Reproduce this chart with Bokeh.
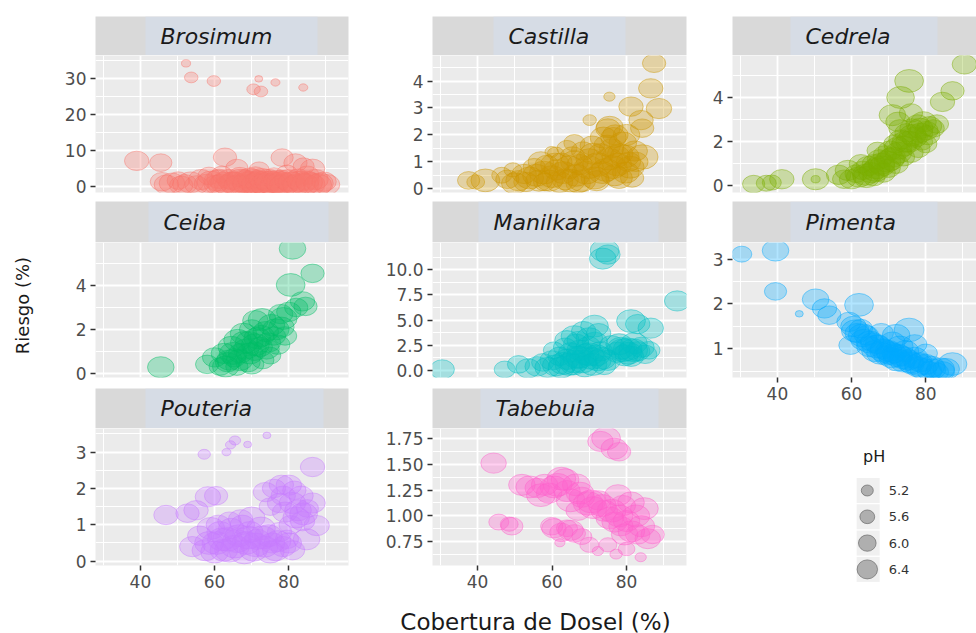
from math import pi

from bokeh.core.properties import value
from bokeh.embed import file_html
from bokeh.layouts import column, row
from bokeh.models import ColumnDataSource, FixedTicker, LinearInterpolator, Range1d
from bokeh.plotting import figure
from bokeh.resources import INLINE
from bokeh.transform import transform

# ---------------------------------------------------------------------------
# Data: (cobertura de dosel %, riesgo %, pH) for each genus
# ---------------------------------------------------------------------------
BROSIMUM = [
    (52.3, 34.1, 4.6), (53.7, 30.2, 5.0), (59.8, 29.2, 5.0), (71.9, 29.8, 4.5),
    (76.4, 28.8, 4.6), (70.5, 26.9, 5.0), (72.5, 26.3, 5.0), (83.9, 27.4, 4.6),
    (39.0, 7.0, 6.0), (45.5, 6.5, 5.8), (62.8, 8.0, 5.9), (78.2, 7.9, 5.8),
    (81.8, 6.4, 5.9), (86.4, 4.8, 6.0), (66.0, 5.0, 5.8), (72.0, 4.5, 5.6),
    (84.0, 5.5, 5.7), (45.8, 1.2, 5.9), (48.5, 0.8, 6.1), (50.2, 1.5, 5.8),
    (52.0, 0.5, 6.0), (53.5, 1.0, 6.2), (55.1, 0.3, 5.9), (56.4, 1.8, 6.1),
    (57.8, 0.6, 6.0), (59.0, 1.1, 6.3), (60.3, 0.4, 5.9), (61.2, 2.0, 6.0),
    (62.5, 0.9, 6.2), (63.4, 0.2, 6.1), (64.6, 1.4, 5.8), (65.5, 0.6, 6.4),
    (66.8, 2.5, 6.0), (67.5, 0.3, 6.2), (68.3, 1.2, 6.3), (69.2, 0.5, 6.1),
    (70.1, 0.9, 6.4), (70.8, 0.2, 6.2), (71.6, 1.6, 6.0), (72.4, 0.4, 6.3),
    (73.3, 0.8, 6.5), (74.0, 0.2, 6.2), (74.8, 1.3, 6.1), (75.6, 0.5, 6.4),
    (76.5, 0.9, 6.2), (77.3, 0.3, 6.0), (78.1, 1.8, 5.9), (79.0, 0.6, 6.3),
    (80.2, 1.1, 6.1), (81.3, 0.4, 6.0), (82.5, 2.2, 5.9), (83.6, 0.8, 6.2),
    (84.9, 1.5, 6.0), (86.0, 0.5, 6.3), (87.2, 1.8, 6.1), (88.4, 0.7, 6.2),
    (89.5, 1.2, 6.0), (90.3, 0.4, 6.1), (58.5, 2.8, 5.8), (62.0, 3.2, 5.7),
    (68.0, 2.0, 5.9), (76.0, 2.6, 5.8), (85.0, 3.0, 5.9), (79.5, 3.5, 5.7),
    (71.0, 2.9, 5.8), (60.8, 1.5, 6.2), (62.0, 0.3, 6.3), (63.8, 1.9, 6.0),
    (65.0, 0.9, 6.3), (66.2, 0.1, 6.2), (67.0, 1.5, 6.4), (68.8, 0.7, 6.4),
    (69.5, 2.2, 6.1), (70.5, 1.3, 6.5), (71.2, 0.6, 6.4), (72.0, 1.1, 6.3),
    (72.8, 2.0, 6.2), (73.6, 0.5, 6.4), (74.4, 1.6, 6.3), (75.2, 0.9, 6.5),
    (76.0, 0.2, 6.3), (76.9, 1.4, 6.2), (77.8, 0.8, 6.4), (78.6, 0.2, 6.3),
    (79.8, 1.6, 6.2), (80.8, 0.8, 6.3), (82.0, 0.3, 6.2), (83.0, 1.3, 6.1),
    (84.3, 0.4, 6.3), (85.5, 1.0, 6.2), (87.8, 0.3, 6.3), (51.0, 0.2, 5.9),
    (47.0, 0.4, 6.0),
]

CASTILLA = [
    (87.4, 4.66, 5.9), (86.5, 3.73, 6.0), (75.4, 3.42, 4.8), (81.2, 3.05, 6.0),
    (88.7, 2.98, 6.1), (83.9, 2.55, 6.0), (84.2, 2.25, 5.9), (70.1, 2.55, 5.0),
    (75.0, 2.24, 6.0), (76.5, 1.90, 6.1), (84.3, 1.18, 6.6), (59.9, 1.37, 5.0),
    (37.6, 0.31, 5.8), (42.1, 0.31, 6.4), (39.5, 0.25, 5.4), (46.5, 0.50, 5.6),
    (48.0, 0.35, 5.9), (49.5, 0.70, 5.4), (51.0, 0.30, 6.1), (52.5, 0.55, 6.0),
    (54.0, 0.40, 6.3), (55.2, 0.80, 5.8), (56.5, 0.30, 6.2), (57.8, 0.60, 6.4),
    (58.6, 0.90, 5.9), (60.0, 0.45, 6.3), (61.2, 0.70, 6.1), (62.4, 1.00, 5.8),
    (63.5, 0.35, 6.2), (64.6, 0.80, 6.4), (65.5, 1.20, 6.0), (66.5, 0.50, 6.3),
    (67.4, 0.90, 6.1), (68.3, 1.40, 5.9), (69.2, 0.60, 6.4), (70.0, 1.10, 6.2),
    (70.8, 1.60, 6.0), (71.5, 0.40, 6.3), (72.3, 0.90, 6.5), (73.1, 1.30, 6.1),
    (73.8, 1.90, 6.2), (74.5, 0.70, 6.4), (75.3, 1.10, 6.3), (76.0, 1.50, 6.0),
    (76.8, 0.50, 6.2), (77.5, 0.90, 6.4), (78.3, 1.30, 6.1), (79.0, 1.70, 6.3),
    (79.8, 0.60, 6.2), (80.5, 1.00, 6.0), (81.5, 0.40, 5.9), (82.2, 1.40, 6.1),
    (67.0, 0.20, 6.0), (58.0, 0.25, 5.8), (61.0, 1.30, 5.3), (64.0, 1.50, 5.6),
    (66.0, 1.70, 5.7), (50.0, 0.20, 6.2), (53.0, 0.25, 6.0), (55.8, 0.50, 6.3),
    (57.0, 1.00, 6.1), (59.3, 0.30, 6.2), (60.8, 0.90, 6.4), (62.0, 0.25, 6.2),
    (63.0, 0.60, 6.3), (65.0, 0.30, 6.4), (66.0, 1.00, 6.3), (68.0, 0.30, 6.3),
    (69.8, 0.80, 6.4), (71.0, 1.30, 6.2), (72.0, 0.30, 6.1), (73.5, 0.60, 6.3),
    (74.8, 1.60, 6.2), (76.3, 0.80, 6.4), (77.2, 1.20, 6.3), (78.0, 0.40, 6.2),
    (79.5, 1.20, 6.4), (80.0, 2.00, 6.2), (81.0, 0.80, 6.3), (82.5, 1.00, 6.0),
    (77.0, 2.00, 6.1), (75.5, 2.30, 6.2),
]

CEDRELA = [
    (90.4, 5.50, 6.0), (75.5, 4.75, 6.4), (87.2, 4.30, 5.9), (73.2, 4.00, 6.3),
    (84.5, 3.80, 6.0), (71.0, 3.20, 6.2), (72.5, 2.90, 6.0), (76.0, 3.30, 5.9),
    (60.0, 0.30, 6.0), (61.2, 0.55, 5.8), (62.0, 0.40, 6.1), (63.0, 0.70, 5.9),
    (63.8, 0.50, 6.2), (64.5, 0.90, 6.0), (65.3, 0.60, 6.1), (66.0, 1.00, 5.9),
    (66.8, 0.80, 6.2), (67.5, 1.20, 6.0), (68.2, 0.90, 6.1), (69.0, 1.40, 5.9),
    (69.7, 1.10, 6.2), (70.4, 1.60, 6.0), (71.1, 1.30, 6.1), (71.8, 1.90, 5.9),
    (72.6, 1.50, 6.2), (73.3, 2.10, 6.0), (74.0, 1.80, 6.1), (74.8, 2.40, 5.9),
    (75.5, 2.00, 6.2), (76.3, 2.60, 6.0), (77.0, 2.20, 6.1), (77.8, 2.80, 5.9),
    (78.6, 2.40, 6.0), (79.4, 2.90, 6.1), (80.2, 2.50, 5.9), (81.0, 2.70, 6.0),
    (82.0, 2.60, 5.8), (83.0, 2.80, 5.9), (66.0, 0.40, 5.8), (68.5, 0.60, 6.0),
    (70.0, 0.80, 5.9), (72.0, 1.00, 6.0), (74.0, 1.30, 5.8), (76.0, 1.50, 6.0),
    (78.0, 1.70, 5.9), (80.0, 1.90, 5.8), (62.5, 1.00, 5.9), (67.0, 1.60, 5.7),
    (73.0, 2.60, 5.8), (79.0, 2.00, 5.7), (33.6, 0.08, 5.8), (37.0, 0.12, 5.6),
    (38.5, 0.15, 5.5), (41.2, 0.30, 6.0), (50.3, 0.30, 6.2), (50.3, 0.30, 4.6),
    (56.5, 0.50, 6.0), (58.0, 0.30, 5.9), (59.0, 0.70, 6.1), (64.0, 0.40, 6.2),
    (66.5, 0.70, 6.3), (68.0, 1.00, 6.2), (70.5, 1.20, 6.3), (72.5, 1.70, 6.3),
    (74.5, 2.00, 6.2), (76.5, 2.30, 6.2), (78.5, 2.60, 6.1), (80.5, 2.30, 6.0),
]

CEIBA = [
    (81.0, 5.69, 6.2), (86.4, 4.56, 5.9), (80.5, 4.03, 6.4), (83.7, 3.28, 6.0),
    (84.5, 3.05, 5.9), (72.8, 2.45, 6.3), (77.8, 2.70, 6.0), (45.5, 0.27, 6.2),
    (58.0, 0.40, 5.9), (60.0, 0.72, 6.0), (61.5, 0.30, 5.8), (62.5, 0.90, 6.1),
    (63.5, 0.50, 6.0), (64.5, 1.20, 6.2), (65.3, 0.70, 5.9), (66.2, 1.50, 6.3),
    (67.0, 0.90, 6.0), (67.8, 1.80, 6.2), (68.5, 1.10, 6.1), (69.3, 1.40, 6.3),
    (70.0, 2.00, 6.0), (70.8, 1.00, 5.9), (71.5, 1.60, 6.2), (72.3, 1.20, 6.0),
    (73.0, 0.60, 5.8), (73.8, 1.90, 6.1), (74.5, 1.40, 6.0), (75.3, 2.20, 6.2),
    (76.0, 1.70, 5.9), (77.0, 1.30, 6.0), (78.0, 2.10, 6.1), (79.0, 1.70, 5.9),
    (80.0, 2.80, 6.0), (82.0, 3.00, 5.9), (75.0, 0.80, 5.7), (66.0, 0.30, 5.8),
    (69.0, 0.50, 6.0), (71.0, 2.40, 6.1), (63.0, 0.30, 6.2), (65.0, 0.90, 6.3),
    (66.8, 0.60, 6.2), (68.0, 1.40, 6.3), (69.5, 0.90, 6.2), (71.0, 1.30, 6.3),
    (72.5, 1.70, 6.2), (74.0, 1.10, 6.1), (76.5, 2.00, 6.2), (78.5, 2.50, 6.3),
    (70.0, 0.40, 6.0), (64.0, 0.60, 6.1),
]

MANILKARA = [
    (74.1, 11.9, 6.4), (73.6, 11.1, 6.2), (75.0, 11.5, 6.0), (93.6, 6.9, 6.1),
    (81.2, 4.9, 6.4), (86.5, 4.2, 6.1), (83.0, 4.6, 6.0), (71.4, 4.4, 6.3),
    (66.0, 3.4, 6.2), (68.5, 3.9, 6.0), (64.0, 3.0, 6.0), (30.5, 0.1, 6.0),
    (47.3, 0.1, 5.7), (53.6, 0.2, 6.0), (51.0, 0.6, 5.8), (56.0, 0.4, 6.0),
    (57.5, 0.8, 5.8), (58.8, 0.3, 6.1), (60.0, 1.0, 6.0), (61.0, 0.5, 6.2),
    (62.0, 1.4, 5.9), (63.0, 0.7, 6.3), (64.0, 1.1, 6.1), (65.0, 1.8, 6.0),
    (65.8, 0.6, 6.2), (66.6, 1.3, 6.3), (67.4, 2.0, 6.1), (68.2, 0.9, 6.4),
    (69.0, 1.6, 6.2), (69.8, 2.4, 6.0), (70.6, 1.2, 6.3), (71.5, 2.8, 6.1),
    (72.3, 1.0, 6.2), (73.0, 1.9, 6.0), (74.0, 0.5, 5.9), (76.0, 2.5, 6.0),
    (77.5, 1.8, 6.1), (78.5, 2.2, 6.3), (79.5, 1.5, 6.2), (80.3, 2.1, 6.4),
    (81.2, 1.4, 6.1), (82.0, 2.7, 6.2), (83.0, 1.9, 6.0), (84.0, 2.3, 6.1),
    (85.0, 1.6, 5.9), (86.0, 2.0, 5.8), (63.5, 2.3, 5.9), (60.5, 2.0, 5.7),
    (67.0, 3.0, 5.8), (62.5, 0.3, 6.2), (64.5, 0.6, 6.3), (66.0, 0.9, 6.4),
    (67.5, 1.3, 6.3), (68.8, 0.4, 6.2), (70.0, 1.6, 6.4), (71.0, 0.6, 6.3),
    (72.0, 1.5, 6.2), (73.5, 1.2, 6.3), (75.0, 1.0, 6.1), (79.0, 2.0, 6.4),
    (80.5, 1.7, 6.3), (81.8, 2.0, 6.4), (78.0, 2.6, 6.2), (66.5, 2.6, 6.1),
    (70.0, 3.2, 6.2), (72.5, 3.7, 6.0),
]

PIMENTA = [
    (30.4, 3.11, 5.6), (39.5, 3.19, 6.2), (39.5, 2.28, 5.8), (45.9, 1.78, 4.5),
    (50.3, 2.10, 6.2), (52.7, 1.90, 6.0), (54.0, 1.75, 5.9), (62.0, 1.98, 6.4),
    (59.3, 1.60, 6.0), (59.7, 1.08, 5.9), (60.5, 1.50, 6.1), (61.5, 1.35, 6.0),
    (62.5, 1.45, 5.9), (63.3, 1.20, 6.2), (64.0, 1.30, 6.0), (64.8, 1.05, 6.1),
    (65.5, 1.15, 5.9), (66.3, 0.95, 6.2), (67.0, 1.10, 6.0), (67.8, 0.90, 6.3),
    (68.5, 1.00, 6.1), (69.3, 0.85, 6.0), (70.0, 0.95, 6.2), (70.8, 0.80, 6.1),
    (71.5, 0.90, 6.0), (72.3, 0.75, 6.3), (73.0, 0.85, 6.1), (73.8, 0.70, 6.0),
    (74.5, 0.95, 6.2), (75.5, 1.42, 6.5), (75.3, 0.75, 6.1), (76.2, 0.65, 6.0),
    (77.0, 0.80, 6.2), (77.8, 0.60, 6.1), (78.5, 0.70, 6.0), (79.3, 0.55, 6.2),
    (80.0, 0.65, 6.1), (81.0, 0.50, 6.0), (82.0, 0.55, 6.1), (83.0, 0.48, 5.9),
    (84.5, 0.50, 6.0), (87.2, 0.66, 6.4), (85.5, 0.55, 6.2), (72.0, 1.30, 6.3),
    (68.0, 1.35, 6.0), (77.0, 1.10, 6.0), (80.0, 0.90, 5.9), (61.0, 1.40, 6.3),
    (63.0, 1.30, 6.4), (65.0, 1.15, 6.3), (66.8, 1.05, 6.4), (68.8, 0.95, 6.4),
    (70.5, 0.90, 6.3), (72.5, 0.85, 6.4), (74.0, 0.80, 6.3), (75.8, 0.70, 6.2),
    (78.0, 0.65, 6.3), (81.5, 0.60, 6.2), (84.0, 0.55, 6.3), (73.0, 1.05, 6.2),
    (71.0, 1.15, 6.1),
]

POUTERIA = [
    (74.1, 3.46, 4.5), (65.5, 3.32, 4.8), (64.3, 3.20, 4.7), (68.9, 3.21, 4.5),
    (63.2, 3.00, 4.6), (57.2, 2.94, 4.9), (86.4, 2.59, 6.0), (73.7, 1.90, 6.0),
    (76.0, 2.00, 5.9), (78.0, 2.10, 6.0), (80.0, 2.09, 6.1), (81.5, 1.95, 5.9),
    (83.3, 1.80, 6.0), (86.4, 1.60, 6.1), (85.0, 1.45, 5.8), (75.0, 1.50, 5.8),
    (77.5, 1.60, 6.0), (79.0, 1.35, 6.1), (82.0, 1.20, 6.2), (83.7, 1.10, 6.0),
    (87.5, 0.98, 6.1), (84.8, 0.60, 6.2), (80.5, 1.00, 5.9), (46.9, 1.27, 6.0),
    (52.7, 1.32, 5.9), (55.0, 1.40, 6.0), (58.2, 1.77, 6.1), (60.4, 1.80, 5.9),
    (54.0, 0.40, 6.1), (56.0, 0.70, 6.0), (57.5, 0.30, 6.2), (59.0, 0.90, 6.3),
    (60.5, 0.50, 6.4), (61.5, 0.80, 6.2), (62.5, 0.30, 6.3), (63.5, 0.60, 6.5),
    (64.5, 0.90, 6.1), (65.5, 0.40, 6.4), (66.5, 0.70, 6.3), (67.5, 1.00, 6.0),
    (68.5, 0.50, 6.4), (69.5, 0.80, 6.2), (70.5, 0.30, 6.3), (71.5, 0.60, 6.1),
    (72.5, 0.90, 6.4), (73.5, 0.40, 6.2), (74.5, 0.70, 6.3), (75.5, 0.50, 6.1),
    (76.5, 0.30, 6.2), (77.5, 0.80, 6.0), (78.5, 0.40, 6.1), (79.5, 0.60, 5.9),
    (81.0, 0.30, 6.0), (70.0, 1.20, 6.2), (67.0, 1.15, 6.0), (64.0, 1.10, 5.9),
    (61.0, 1.00, 6.0), (58.5, 0.50, 6.4), (60.0, 0.25, 6.3), (62.0, 0.60, 6.4),
    (64.0, 0.30, 6.5), (66.0, 0.55, 6.4), (68.0, 0.25, 6.5), (69.0, 0.65, 6.4),
    (71.0, 0.45, 6.5), (73.0, 0.65, 6.4), (75.0, 0.25, 6.3), (77.0, 0.55, 6.2),
    (80.0, 0.50, 6.1), (82.5, 1.40, 6.2), (84.0, 1.30, 6.3), (81.0, 1.60, 6.2),
    (78.5, 1.80, 6.0),
]

TABEBUIA = [
    (44.3, 1.51, 6.1), (74.5, 1.75, 6.4), (73.0, 1.72, 6.1), (76.7, 1.65, 6.2),
    (78.0, 1.62, 5.9), (45.7, 0.94, 5.6), (49.2, 0.90, 5.8), (48.5, 0.92, 5.4),
    (51.9, 1.30, 6.2), (62.5, 1.36, 6.4), (59.2, 1.22, 6.1), (56.0, 1.27, 6.0),
    (58.0, 1.30, 6.2), (60.5, 1.28, 6.3), (64.0, 1.24, 6.2), (66.5, 1.30, 6.3),
    (68.0, 1.18, 6.1), (69.7, 1.12, 6.5), (71.0, 1.08, 6.3), (72.5, 1.15, 6.0),
    (74.0, 1.05, 6.2), (75.5, 0.98, 6.3), (77.7, 1.20, 6.2), (79.0, 1.10, 6.1),
    (81.2, 1.13, 6.2), (84.8, 1.07, 6.3), (76.8, 0.94, 6.1), (78.5, 0.90, 6.0),
    (81.3, 0.85, 6.2), (83.0, 0.82, 6.0), (85.7, 0.78, 6.1), (87.0, 0.82, 5.9),
    (59.9, 0.90, 5.8), (62.5, 0.84, 5.9), (64.0, 0.88, 5.7), (66.0, 0.83, 5.8),
    (68.0, 0.80, 5.6), (62.1, 0.74, 4.7), (70.0, 0.72, 5.5), (72.3, 0.66, 4.8),
    (77.2, 0.63, 4.9), (80.0, 0.68, 5.3), (83.8, 0.60, 4.8), (75.0, 0.72, 5.4),
    (67.0, 1.05, 6.0), (54.0, 1.28, 6.3), (57.0, 1.20, 6.4), (61.5, 1.30, 6.4),
    (63.5, 1.35, 6.3), (65.0, 1.15, 6.4), (67.5, 1.22, 6.3), (70.5, 1.14, 6.4),
    (73.5, 1.10, 6.3), (76.0, 1.05, 6.4), (78.0, 1.00, 6.3), (80.0, 0.95, 6.2),
    (82.5, 1.00, 6.3), (60.5, 0.88, 6.0), (65.0, 0.86, 6.1), (79.5, 0.82, 6.2),
    (84.0, 0.90, 6.2),
]

# Shared x axis (cobertura de dosel)
COV_TICKS = [40, 60, 80]
COV_MINOR = [30, 50, 70, 90]
COV_LABELS = ["40", "60", "80"]

# Per-panel y axes
BRO_TICKS, BRO_LABELS = [0, 10, 20, 30], ["0", "10", "20", "30"]
CAS_TICKS, CAS_LABELS = [0, 1, 2, 3, 4], ["0", "1", "2", "3", "4"]
CED_TICKS, CED_LABELS = [0, 2, 4], ["0", "2", "4"]
CEI_TICKS, CEI_LABELS = [0, 2, 4], ["0", "2", "4"]
MAN_TICKS, MAN_LABELS = [0, 2.5, 5, 7.5, 10], ["0.0", "2.5", "5.0", "7.5", "10.0"]
PIM_TICKS, PIM_LABELS = [1, 2, 3], ["1", "2", "3"]
POU_TICKS, POU_LABELS = [0, 1, 2, 3], ["0", "1", "2", "3"]
TAB_TICKS, TAB_LABELS = [0.75, 1.0, 1.25, 1.5, 1.75], ["0.75", "1.00", "1.25", "1.50", "1.75"]

# pH legend breaks
PH_BREAKS = [5.2, 5.6, 6.0, 6.4]
PH_LABELS = ["5.2", "5.6", "6.0", "6.4"]

# ---------------------------------------------------------------------------
# Styling
# ---------------------------------------------------------------------------
FONT = "DejaVu Sans"
PANEL_BG = "#EBEBEB"
STRIP_GREY = "#D9D9D9"
STRIP_BOX = "#D6DCE5"
TICK_TEXT = "#4D4D4D"
X_MIN, X_MAX = 27.9, 96.1
PX_PER_UNIT = 3.71

# marker footprint (px) as a function of pH; marks are slightly wider than tall
ph_w = LinearInterpolator(x=[4.5, 6.6], y=[8.0, 31.0])
ph_h = LinearInterpolator(x=[4.5, 6.6], y=[6.5, 24.5])
# legend key footprint
key_w = LinearInterpolator(x=[5.2, 6.4], y=[12.0, 20.5])
key_h = LinearInterpolator(x=[5.2, 6.4], y=[11.0, 19.0])

# column geometry: left border, frame width, right border
COLS = [(50, 253, 4), (80, 254, 4), (42, 244, 0)]


def half_steps(ticks, step):
    first = ticks[0] - step / 2
    return [first + i * step for i in range(len(ticks) + 1)]


def strip_fig(col, name, box_left, box_right, height, top=0):
    lb, fw, rb = COLS[col]
    p = figure(width=lb + fw + rb, height=top + height,
               x_range=Range1d(0, fw), y_range=Range1d(0, height),
               min_border_left=lb, min_border_right=rb,
               min_border_top=top, min_border_bottom=0,
               x_axis_location=None, y_axis_location=None,
               output_backend="svg", toolbar_location=None)
    p.grid.visible = False
    p.background_fill_color = STRIP_GREY
    p.border_fill_color = "white"
    p.outline_line_color = None
    p.quad(left=[box_left], right=[box_right], bottom=[0], top=[height],
           fill_color=STRIP_BOX, line_color=None)
    p.text(x=[box_left + 15], y=[height / 2], text=[name],
           text_font=value(FONT), text_font_style="italic",
           text_font_size="22px", text_color="#1A1A1A",
           text_align="left", text_baseline="middle")
    return p


def panel_fig(col, data, color, y0, y1, yticks, ylabels, frame_h,
              bottom, show_x=False):
    lb, fw, rb = COLS[col]
    x_end = X_MIN + fw / PX_PER_UNIT
    p = figure(width=lb + fw + rb, height=frame_h + bottom,
               x_range=Range1d(X_MIN, min(x_end, X_MAX)),
               y_range=Range1d(y0, y1),
               min_border_left=lb, min_border_right=rb,
               min_border_top=0, min_border_bottom=bottom,
               output_backend="svg", toolbar_location=None)
    p.background_fill_color = PANEL_BG
    p.border_fill_color = "white"
    p.outline_line_color = None

    step = yticks[1] - yticks[0]
    xt = FixedTicker(ticks=COV_TICKS, minor_ticks=COV_MINOR)
    yt = FixedTicker(ticks=yticks, minor_ticks=half_steps(yticks, step))

    for ax, tk, labels in ((p.xaxis[0], xt, COV_LABELS), (p.yaxis[0], yt, ylabels)):
        ax.ticker = tk
        ax.major_label_overrides = dict(zip(tk.ticks, labels))
        ax.axis_line_color = None
        ax.major_tick_in = 0
        ax.major_tick_out = 5
        ax.major_tick_line_color = "#333333"
        ax.major_tick_line_width = 1.5
        ax.minor_tick_line_color = None
        ax.major_label_text_font = FONT
        ax.major_label_text_font_size = "17px"
        ax.major_label_text_color = TICK_TEXT
        ax.major_label_standoff = 4
    p.xaxis.visible = show_x

    for g, tk in ((p.xgrid[0], xt), (p.ygrid[0], yt)):
        g.ticker = tk
        g.grid_line_color = "white"
        g.grid_line_width = 1.8
        g.minor_grid_line_color = "white"
        g.minor_grid_line_width = 1.0

    src = ColumnDataSource(dict(cov=[d[0] for d in data],
                                riesgo=[d[1] for d in data],
                                ph=[d[2] for d in data]))
    p.ellipse("cov", "riesgo", source=src,
              width=transform("ph", ph_w), height=transform("ph", ph_h),
              width_units="screen", height_units="screen",
              fill_color=color, fill_alpha=0.3,
              line_color=color, line_alpha=0.45, line_width=1)
    return p


def legend_fig():
    lb, fw, rb = COLS[2]
    w, h = lb + fw + rb, 180
    p = figure(width=w, height=h, x_range=Range1d(0, w), y_range=Range1d(h, 0),
               min_border=0, x_axis_location=None, y_axis_location=None,
               output_backend="svg", toolbar_location=None)
    p.grid.visible = False
    p.outline_line_color = None
    p.background_fill_color = "white"
    p.text(x=[153], y=[36], text=["pH"], text_font=value(FONT),
           text_font_size="16px", text_color="#1A1A1A",
           text_align="left", text_baseline="middle")
    ys = [70 + 26.3 * i for i in range(len(PH_BREAKS))]
    p.rect(x=[159] * len(ys), y=ys, width=27, height=25,
           fill_color="#F0F0F0", line_color=None)
    src = ColumnDataSource(dict(x=[158] * len(ys), y=ys, ph=PH_BREAKS))
    p.ellipse("x", "y", source=src,
              width=transform("ph", key_w), height=transform("ph", key_h),
              width_units="screen", height_units="screen",
              fill_color="#8C8C8C", fill_alpha=0.65,
              line_color="#5A5A5A", line_alpha=0.6, line_width=1)
    p.text(x=[183] * len(ys), y=ys, text=PH_LABELS, text_font=value(FONT),
           text_font_size="13px", text_color="#333333",
           text_align="left", text_baseline="middle")
    return p


# ---------------------------------------------------------------------------
# Facet columns
# ---------------------------------------------------------------------------
col1 = column(
    strip_fig(0, "Brosimum", 50, 222, 39, top=16),
    panel_fig(0, BROSIMUM, "#F8766D", -1.8, 36.3, BRO_TICKS, BRO_LABELS, 137, 9),
    strip_fig(0, "Ceiba", 53, 233, 41),
    panel_fig(0, CEIBA, "#00BE67", -0.2, 5.97, CEI_TICKS, CEI_LABELS, 135, 11),
    strip_fig(0, "Pouteria", 50, 228, 40),
    panel_fig(0, POUTERIA, "#C77CFF", -0.12, 3.65, POU_TICKS, POU_LABELS, 137, 35, show_x=True),
    spacing=0,
)

col2 = column(
    strip_fig(1, "Castilla", 61, 193, 39, top=16),
    panel_fig(1, CASTILLA, "#CD9600", -0.14, 4.95, CAS_TICKS, CAS_LABELS, 137, 9),
    strip_fig(1, "Manilkara", 46, 226, 41),
    panel_fig(1, MANILKARA, "#00BFC4", -0.7, 12.7, MAN_TICKS, MAN_LABELS, 135, 11),
    strip_fig(1, "Tabebuia", 48, 226, 40),
    panel_fig(1, TABEBUIA, "#FF61CC", 0.52, 1.845, TAB_TICKS, TAB_LABELS, 137, 35, show_x=True),
    spacing=0,
)

col3 = column(
    strip_fig(2, "Cedrela", 58, 205, 39, top=16),
    panel_fig(2, CEDRELA, "#7CAE00", -0.3, 5.9, CED_TICKS, CED_LABELS, 137, 9),
    strip_fig(2, "Pimenta", 58, 205, 41),
    panel_fig(2, PIMENTA, "#00A9FF", 0.36, 3.37, PIM_TICKS, PIM_LABELS, 135, 43, show_x=True),
    legend_fig(),
    spacing=0,
)

# y-axis title
ylab = figure(width=45, height=600, x_range=Range1d(0, 45), y_range=Range1d(600, 0),
              min_border=0, x_axis_location=None, y_axis_location=None,
              output_backend="svg", toolbar_location=None)
ylab.grid.visible = False
ylab.outline_line_color = None
ylab.text(x=[22], y=[305], text=["Riesgo (%)"], angle=pi / 2,
          text_font=value(FONT), text_font_size="18px", text_color="#1A1A1A",
          text_align="center", text_baseline="middle")

# x-axis title
xlab = figure(width=976, height=33, x_range=Range1d(0, 976), y_range=Range1d(33, 0),
              min_border=0, x_axis_location=None, y_axis_location=None,
              output_backend="svg", toolbar_location=None)
xlab.grid.visible = False
xlab.outline_line_color = None
xlab.text(x=[535], y=[21], text=["Cobertura de Dosel (%)"],
          text_font=value(FONT), text_font_size="23px", text_color="#1A1A1A",
          text_align="center", text_baseline="middle")

page = column(row(ylab, col1, col2, col3, spacing=0), xlab, spacing=0)

open("out.html", "w").write(file_html(page, INLINE))
